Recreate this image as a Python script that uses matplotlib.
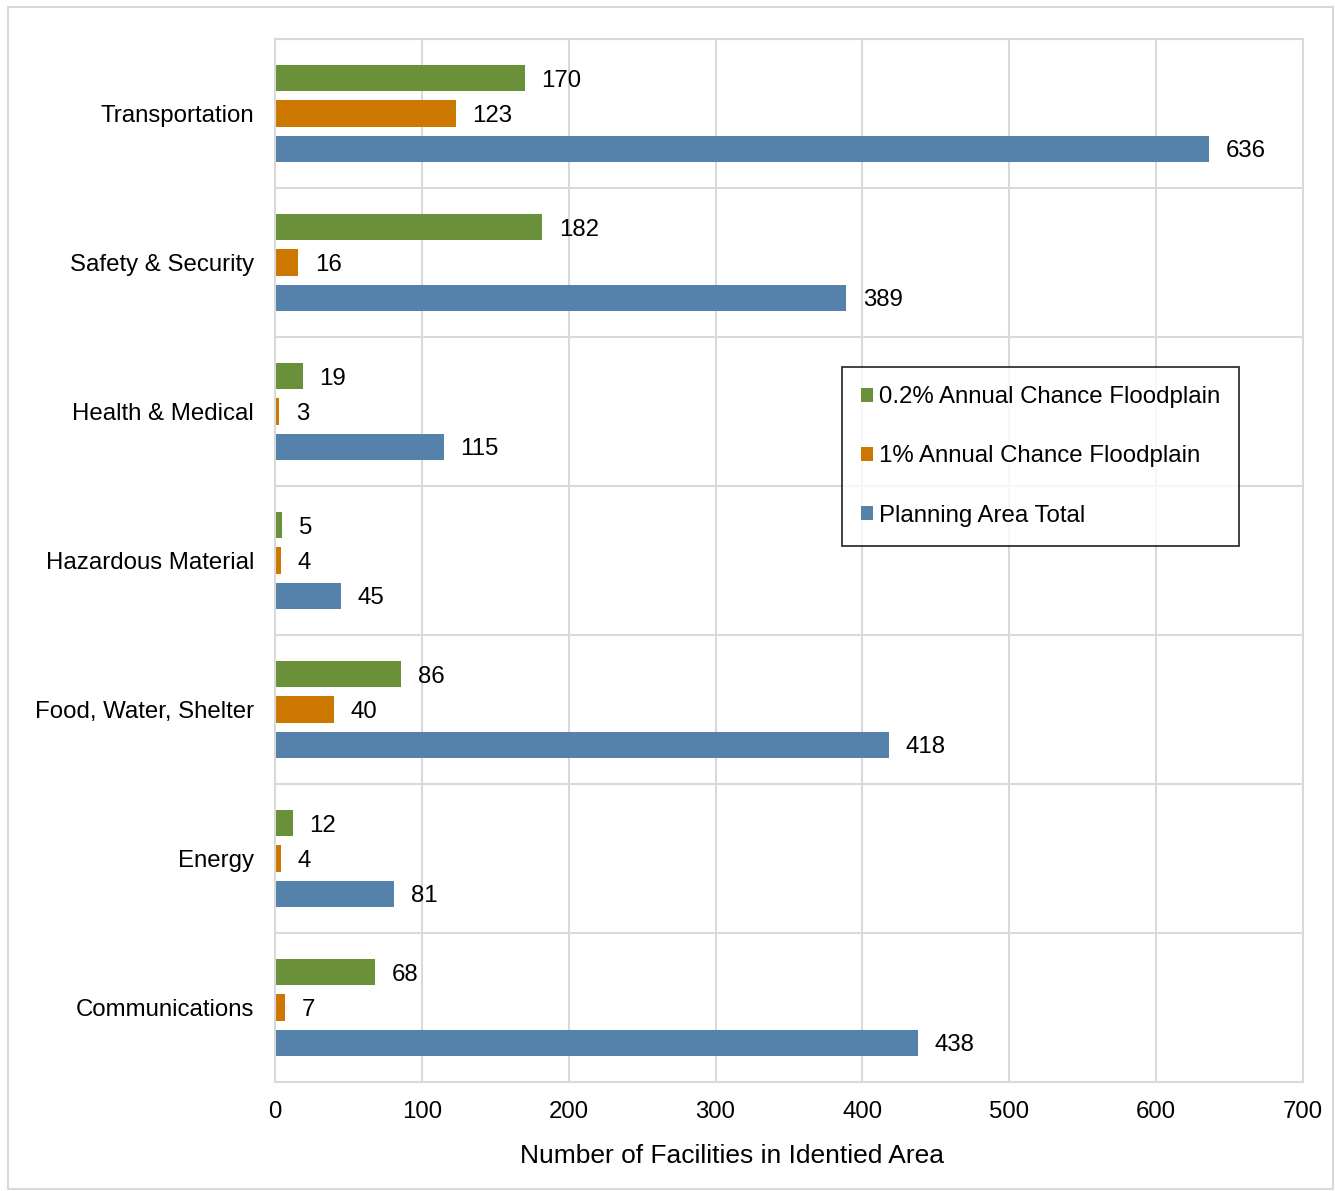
import matplotlib
matplotlib.use("Agg")
import matplotlib.pyplot as plt
from matplotlib.patches import Rectangle
import numpy as np

plt.rcParams['font.family'] = ['Liberation Sans', 'DejaVu Sans']

categories = ["Transportation", "Safety & Security", "Health & Medical",
              "Hazardous Material", "Food, Water, Shelter", "Energy", "Communications"]
floodplain_02 = [170, 182, 19, 5, 86, 12, 68]
floodplain_1 = [123, 16, 3, 4, 40, 4, 7]
planning_total = [636, 389, 115, 45, 418, 81, 438]

series = [
    ("0.2% Annual Chance Floodplain", floodplain_02, "#6a9139"),
    ("1% Annual Chance Floodplain", floodplain_1, "#cc7700"),
    ("Planning Area Total", planning_total, "#5482ab"),
]

FS = 17.3

fig = plt.figure(figsize=(13.35, 11.91), dpi=100)
ax = fig.add_axes([275 / 1335, 1 - 1082 / 1191, 1028 / 1335, 1043 / 1191])

# outer chart frame
fig.patches.append(Rectangle((8 / 1335, 1 - 1189 / 1191), 1325 / 1335, 1182 / 1191,
                             transform=fig.transFigure, fill=False,
                             edgecolor="#d9d9d9", linewidth=1.5))

y = np.arange(len(categories))
bar_h = 0.18
offsets = [-0.238, 0.0, 0.238]

for (label, vals, color), off in zip(series, offsets):
    bars = ax.barh(y + off, vals, height=bar_h, color=color, label=label)
    for b, v in zip(bars, vals):
        ax.annotate(str(v), (b.get_width(), b.get_y() + b.get_height() / 2),
                    xytext=(12, 0), textcoords="offset points",
                    va="center_baseline", ha="left", fontsize=FS)

ax.set_ylim(len(categories) - 0.5, -0.5)
ax.set_xlim(0, 700)
ax.set_xticks(np.arange(0, 701, 100))
ax.set_yticks(y)
ax.set_yticklabels(categories)
ax.set_yticks(np.arange(-0.5, len(categories), 1.0), minor=True)
ax.tick_params(axis='y', which='both', length=0, pad=15, labelsize=FS)
ax.tick_params(axis='x', length=0, pad=14, labelsize=FS)

ax.grid(axis='x', color="#d9d9d9", linewidth=1.5)
ax.grid(axis='y', which='minor', color="#d9d9d9", linewidth=1.5)
ax.set_axisbelow(True)
for s in ax.spines.values():
    s.set_color("#d9d9d9")
    s.set_linewidth(1.5)

ax.set_xlabel("Number of Facilities in Identied Area", fontsize=19)
ax.xaxis.set_label_coords(0.4446, -0.071, transform=ax.transAxes)
ax.xaxis.label.set_va("center")

leg = ax.legend(loc="upper left", bbox_to_anchor=(0.5516, 0.6855), borderaxespad=0,
                fontsize=FS, frameon=True, fancybox=False, edgecolor="black",
                labelspacing=1.55, handlelength=0.5, handleheight=0.5,
                handletextpad=0.22, borderpad=0.8)
leg.get_frame().set_linewidth(1.3)

fig.savefig("out.png", dpi=100)
